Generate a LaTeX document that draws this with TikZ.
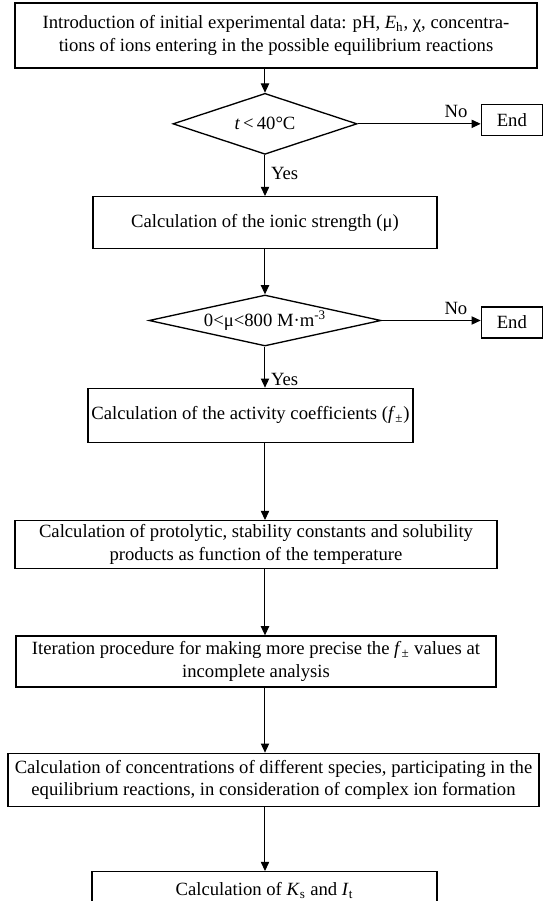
\documentclass[tikz,border=0pt]{standalone}
\usepackage{fontspec}
\setmainfont{Liberation Serif}
\usetikzlibrary{positioning,shapes.geometric,arrows.meta}

\begin{document}
\begin{tikzpicture}[
  font = \fontsize{11.2}{13.6}\selectfont,
  stepbox/.style = {draw, line width = 0.8pt, shape = rectangle, align = center, inner sep = 1pt},
  testbox/.style = {draw, line width = 0.8pt, shape = diamond, aspect = 4.5, inner sep = 0pt},
  endbox/.style = {draw, line width = 0.8pt, shape = rectangle, minimum width = 36.6pt, minimum height = 18.6pt},
  flow/.style = {-{Triangle[length = 5.5pt, width = 5pt]}, line width = 0.6pt}
]
\useasboundingbox (-165.6pt,21.3pt) rectangle (159.6pt,-519.3pt);
\node[stepbox, minimum width = 313.2pt, minimum height = 39pt] (intro) {Introduction of initial experimental data: pH, \textit{E}\textsubscript{h}, χ, concentra-\\tions of ions entering in the possible equilibrium reactions};
\node[testbox, minimum width = 110.4pt, minimum height = 36.6pt, below = 14.4pt of intro, xshift = -6.6pt] (temp) {\textit{t}\,<\,40°C};
\node[endbox, right = 73.8pt of temp, yshift = 2.4pt] (end1) {End};
\node[stepbox, minimum width = 206.4pt, minimum height = 31.2pt, below = 24.6pt of temp] (ionic) {Calculation of the ionic strength (μ)};
\node[testbox, minimum width = 139.2pt, minimum height = 30.6pt, below = 27pt of ionic] (mu) {0<μ<800 M·m\textsuperscript{-3}};
\node[endbox, right = 59.4pt of mu, yshift = -1.2pt] (end2) {End};
\node[stepbox, minimum width = 195pt, minimum height = 32.4pt, below = 24.6pt of mu, xshift = -8.7pt] (activ) {Calculation of the activity coefficients (\textit{f}\textsubscript{±})};
\node[stepbox, minimum width = 289.2pt, minimum height = 28.8pt, below = 46.2pt of activ, xshift = 3.3pt] (const) {Calculation of protolytic, stability constants and solubility\\products as function of the temperature};
\node[stepbox, minimum width = 288pt, minimum height = 30.6pt, below = 39.6pt of const] (iter) {Iteration procedure for making more precise the \textit{f}\textsubscript{±} values at\\incomplete analysis};
\node[stepbox, minimum width = 318.6pt, minimum height = 31.8pt, below = 39pt of iter, xshift = 10.5pt] (conc) {Calculation of concentrations of different species, participating in the\\equilibrium reactions, in consideration of complex ion formation};
\node[stepbox, minimum width = 207pt, minimum height = 22.8pt, below = 38.4pt of conc, xshift = -5.4pt] (ksit) {Calculation of \textit{K}\textsubscript{s} and \textit{I}\textsubscript{t}};

% main line
\draw[flow] (intro.south -| temp) -- (temp.north);
\draw[flow] (temp.south) -- (ionic.north -| temp) node [pos = 0.46, right] {Yes};
\draw[flow] (ionic.south -| mu) -- (mu.north);
\draw[flow] (mu.south) -- (activ.north -| mu) node [pos = 0.8, right] {Yes};
\draw[flow] (activ.south -| mu) -- (const.north -| mu);
\draw[flow] (const.south -| mu) -- (iter.north -| mu);
\draw[flow] (iter.south -| mu) -- (conc.north -| mu);
\draw[flow] (conc.south -| mu) -- (ksit.north -| mu);

% exits
\draw[flow] (temp.east) -- (temp.east -| end1.west) node [pos = 0.8, above] {No};
\draw[flow] (mu.east) -- (mu.east -| end2.west) node [pos = 0.75, above] {No};
\end{tikzpicture}
\end{document}
